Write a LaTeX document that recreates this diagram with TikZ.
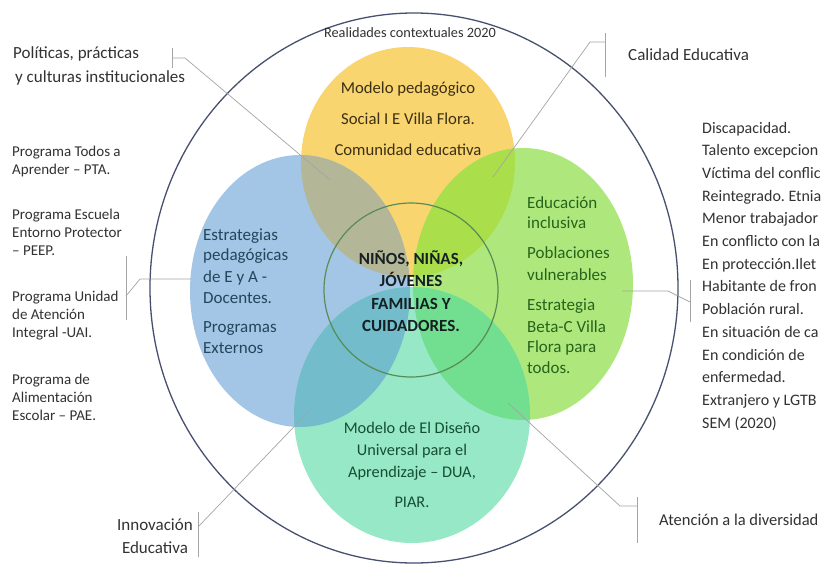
\documentclass[tikz,border=0pt]{standalone}
\usepackage{fontspec}
\setmainfont{Carlito}
\frenchspacing
\definecolor{yel}{RGB}{249,213,112}
\definecolor{blu}{RGB}{164,198,230}
\definecolor{grn}{RGB}{174,232,124}
\definecolor{mnt}{RGB}{150,232,198}
\definecolor{yb}{RGB}{180,182,152}
\definecolor{yg}{RGB}{170,222,74}
\definecolor{bt}{RGB}{114,188,204}
\definecolor{gt}{RGB}{114,222,144}
\definecolor{rim}{RGB}{72,80,112}
\definecolor{hub}{RGB}{88,140,86}
\definecolor{lead}{RGB}{165,165,165}
\definecolor{txt}{RGB}{50,50,50}
\definecolor{ytxt}{RGB}{60,48,20}
\definecolor{btxt}{RGB}{34,70,92}
\definecolor{gtxt}{RGB}{38,100,28}
\definecolor{mtxt}{RGB}{22,78,50}
\definecolor{ctxt}{RGB}{22,32,34}
\tikzset{
  line/.style={inner sep=0pt, anchor=base west},
  outer/.style={line, text=txt, font=\fontsize{17}{20}\selectfont},
  lst/.style={line, text=txt, font=\fontsize{15}{18}\selectfont},
  leader/.style={draw=lead, line width=0.7pt},
}
\begin{document}
\begin{tikzpicture}[x=1pt,y=-1pt]
  \useasboundingbox (0,0) rectangle (823,568);
  \fill[white] (0,0) rectangle (823,568);
  \fill[yel] (408,162) ellipse [x radius=107pt, y radius=115pt];
  \fill[blu] (300,291) ellipse [x radius=110pt, y radius=136pt];
  \fill[grn] (523,284) ellipse [x radius=110pt, y radius=136pt];
  \fill[mnt] (412,415) ellipse [x radius=118pt, y radius=128pt];
  \begin{scope}
    \clip (408,162) ellipse [x radius=107pt, y radius=115pt];
    \fill[yb] (300,291) ellipse [x radius=110pt, y radius=136pt];
    \fill[yg] (523,284) ellipse [x radius=110pt, y radius=136pt];
  \end{scope}
  \begin{scope}
    \clip (412,415) ellipse [x radius=118pt, y radius=128pt];
    \fill[bt] (300,291) ellipse [x radius=110pt, y radius=136pt];
    \fill[gt] (523,284) ellipse [x radius=110pt, y radius=136pt];
  \end{scope}
  \draw[rim, line width=1.3pt] (414,288) ellipse [x radius=264pt, y radius=275pt];
  \draw[hub, line width=1.2pt] (411,290) circle [radius=87pt];

  \coordinate (pol1) at (172,48);  \coordinate (pol2) at (172,68);
  \coordinate (polk) at (185,58);  \coordinate (pole) at (330,180);
  \coordinate (cal1) at (605,33);  \coordinate (cal2) at (605,77);
  \coordinate (calk) at (590,42);  \coordinate (cale) at (493,177);
  \coordinate (prg1) at (126,256); \coordinate (prg2) at (126,320);
  \coordinate (prgk) at (140,279); \coordinate (prge) at (191,279);
  \coordinate (pob1) at (690,280); \coordinate (pob2) at (690,322);
  \coordinate (pobk) at (668,291); \coordinate (pobe) at (622,291);
  \coordinate (inn1) at (198,512); \coordinate (inn2) at (198,557);
  \coordinate (inne) at (310,410);
  \coordinate (ate1) at (637,497); \coordinate (ate2) at (637,543);
  \coordinate (atek) at (620,506); \coordinate (atee) at (508,403);
  \begin{scope}[leader]
    \draw (pol1) -- (pol2);
    \draw (172,58) -- (polk) -- (pole);
    \draw (cal1) -- (cal2);
    \draw (605,42) -- (calk) -- (cale);
    \draw (prg1) -- (prg2);
    \draw (126,296) -- (prgk) -- (prge);
    \draw (pob1) -- (pob2);
    \draw (690,302) -- (pobk) -- (pobe);
    \draw (inn1) -- (inn2);
    \draw (198,527) -- (inne);
    \draw (ate1) -- (ate2);
    \draw (637,506) -- (atek) -- (atee);
  \end{scope}

  \node[line, anchor=base, text=txt, font=\fontsize{14.3}{17}\selectfont] (real) at (410,37) {Realidades contextuales 2020};
  \foreach \t/\y [count=\i] in {Modelo pedagógico/93, Social I E Villa Flora./124, Comunidad educativa/155}
    \node[line, anchor=base, text=ytxt, font=\fontsize{16.7}{20}\selectfont] (mod\i) at (408,\y) {\t};
  \foreach \t/\y [count=\i] in {Estrategias/240, pedagógicas/260, de E y A -/282, Docentes./303, Programas/332, Externos/353}
    \node[line, text=btxt, font=\fontsize{17}{20}\selectfont] (est\i) at (203,\y) {\t};
  \foreach \t/\y [count=\i] in {Educación/208, inclusiva/228, Poblaciones/258, vulnerables/280, Estrategia/310, Beta-C Villa/332, Flora para/352, todos./373}
    \node[line, text=gtxt, font=\fontsize{17}{20}\selectfont] (edu\i) at (527,\y) {\t};
  \foreach \t/\y [count=\i] in {{NIÑOS, NIÑAS,}/264, JÓVENES/286, FAMILIAS Y/309, CUIDADORES./331}
    \node[line, anchor=base, text=ctxt, font=\bfseries\fontsize{17}{20}\selectfont] (nin\i) at (411,\y) {\t};
  \foreach \t/\y [count=\i] in {Modelo de El Diseño/433, Universal para el/455, {Aprendizaje – DUA,}/477, PIAR./507}
    \node[line, anchor=base, text=mtxt, font=\fontsize{16.3}{19}\selectfont] (dua\i) at (412,\y) {\t};

  \node[outer] (pol) at (13,58) {Políticas, prácticas};
  \node[outer] (cul) at (15,82) {y culturas institucionales};
  \node[outer] (cal) at (628,60) {Calidad Educativa};
  \node[outer, anchor=base] (inn) at (155,530) {Innovación};
  \node[outer, anchor=base] (edc) at (155,553) {Educativa};
  \node[outer, font=\fontsize{16.5}{20}\selectfont] (ate) at (659,525) {Atención a la diversidad};
  \foreach \t/\y [count=\i] in {Programa Todos a/156, Aprender – PTA./174, Programa Escuela/219, Entorno Protector/237, – PEEP./255, Programa Unidad/301, de Atención/319, Integral -UAI./337, Programa de/384, Alimentación/402, Escolar – PAE./420}
    \node[lst] (prg\i) at (12,\y) {\t};
  \foreach \t [count=\i from 0] in {Discapacidad., Talento excepcion, Víctima del conflic, Reintegrado. Etnia, Menor trabajador, En conflicto con la, En protección.Ilet, Habitante de fron, Población rural., En situación de ca, En condición de, enfermedad., Extranjero y LGTB, SEM (2020)}
    \node[lst, font=\fontsize{16}{19}\selectfont] (pob\i) at (702,133+22.7*\i) {\t};
\end{tikzpicture}
\end{document}
